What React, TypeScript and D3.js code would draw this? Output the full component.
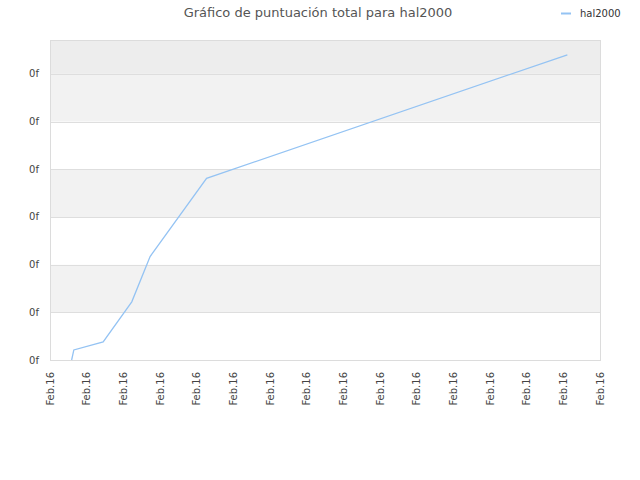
import * as React from "react";
import * as d3 from "d3";

// chart values (x in tick steps, y in score units)
const seriesName = "hal2000";
const pointX = [0.59, 0.65, 1.45, 2.23, 2.73, 4.27, 14.11];
const pointY = [0, 0.21, 0.38, 1.22, 2.17, 3.81, 6.4];
const xTickLabels = [
  "Feb.16", "Feb.16", "Feb.16", "Feb.16", "Feb.16", "Feb.16", "Feb.16", "Feb.16",
  "Feb.16", "Feb.16", "Feb.16", "Feb.16", "Feb.16", "Feb.16", "Feb.16", "Feb.16",
];
const yTickValues = [0, 1, 2, 3, 4, 5, 6];
const yTickLabels = ["0f", "0f", "0f", "0f", "0f", "0f", "0f"];

const W = 640;
const H = 480;
const margin = { top: 40, right: 40, bottom: 120, left: 50 };
const font = "'DejaVu Sans', Verdana, sans-serif";

export default function App() {
  const node = React.useRef<SVGSVGElement>(null);

  React.useEffect(() => {
    const svg = d3.select(node.current);
    svg.selectAll("*").remove();

    const width = W - margin.left - margin.right;
    const height = H - margin.top - margin.bottom;

    const x = d3.scaleLinear().domain([0, xTickLabels.length - 1]).range([0, width]);
    const y = d3.scaleLinear().domain([0, 6.71]).range([height, 0]);

    svg.append("rect").attr("width", W).attr("height", H).attr("fill", "#fff");

    const g = svg.append("g").attr("transform", "translate(" + margin.left + "," + margin.top + ")");

    // alternating bands
    const bands = d3.range(yTickValues.length).map((i) => ({
      y0: yTickValues[i],
      y1: i + 1 < yTickValues.length ? yTickValues[i + 1] : y.domain()[1],
      fill: i === yTickValues.length - 1 ? "#ededed" : i % 2 === 1 ? "#f2f2f2" : "#ffffff",
    }));
    g.selectAll("rect.band")
      .data(bands)
      .join("rect")
      .attr("class", "band")
      .attr("x", 0)
      .attr("width", width)
      .attr("y", (d) => y(d.y1))
      .attr("height", (d) => y(d.y0) - y(d.y1))
      .attr("fill", (d) => d.fill);

    // grid lines
    g.selectAll("line.grid")
      .data(yTickValues)
      .join("line")
      .attr("class", "grid")
      .attr("x1", 0)
      .attr("x2", width)
      .attr("y1", (d) => Math.round(y(d)) + 0.5)
      .attr("y2", (d) => Math.round(y(d)) + 0.5)
      .attr("stroke", "#dedede")
      .attr("stroke-width", 1);

    // plot frame
    g.append("rect")
      .attr("x", 0.5)
      .attr("y", 0.5)
      .attr("width", width)
      .attr("height", height)
      .attr("fill", "none")
      .attr("stroke", "#dcdcdc");

    // y labels
    g.selectAll("text.ylab")
      .data(yTickValues)
      .join("text")
      .attr("class", "ylab")
      .attr("x", -11)
      .attr("y", (d) => y(d))
      .attr("dy", "0.35em")
      .attr("text-anchor", "end")
      .style("font-family", font)
      .style("font-size", "10px")
      .attr("fill", "#444")
      .text((d, i) => yTickLabels[i]);

    // x labels
    g.selectAll("text.xlab")
      .data(xTickLabels)
      .join("text")
      .attr("class", "xlab")
      .attr("transform", (d, i) => "translate(" + x(i) + "," + (height + 12) + ") rotate(-90)")
      .attr("dy", "0.35em")
      .attr("text-anchor", "end")
      .style("font-family", font)
      .style("font-size", "10px")
      .attr("fill", "#444")
      .text((d) => d);

    // series line
    const line = d3
      .line<number>()
      .x((d, i) => x(pointX[i]))
      .y((d) => y(d));
    g.append("path")
      .datum(pointY)
      .attr("fill", "none")
      .attr("stroke", "#94c3f3")
      .attr("stroke-width", 1.3)
      .attr("d", line);

    // title
    svg.append("text")
      .attr("x", 318)
      .attr("y", 17)
      .attr("text-anchor", "middle")
      .style("font-family", font)
      .style("font-size", "13px")
      .attr("fill", "#555")
      .text("Gráfico de puntuación total para hal2000");

    // legend
    svg.append("line")
      .attr("x1", 561)
      .attr("x2", 571)
      .attr("y1", 13.5)
      .attr("y2", 13.5)
      .attr("stroke", "#94c3f3")
      .attr("stroke-width", 2);
    svg.append("text")
      .attr("x", 580)
      .attr("y", 13)
      .attr("dy", "0.35em")
      .style("font-family", font)
      .style("font-size", "10px")
      .attr("fill", "#333")
      .text(seriesName);
  }, []);

  return (
    <svg
      ref={node}
      width={W}
      height={H}
      style={{ display: "block", position: "absolute", left: 0, top: 0 }}
    />
  );
}
